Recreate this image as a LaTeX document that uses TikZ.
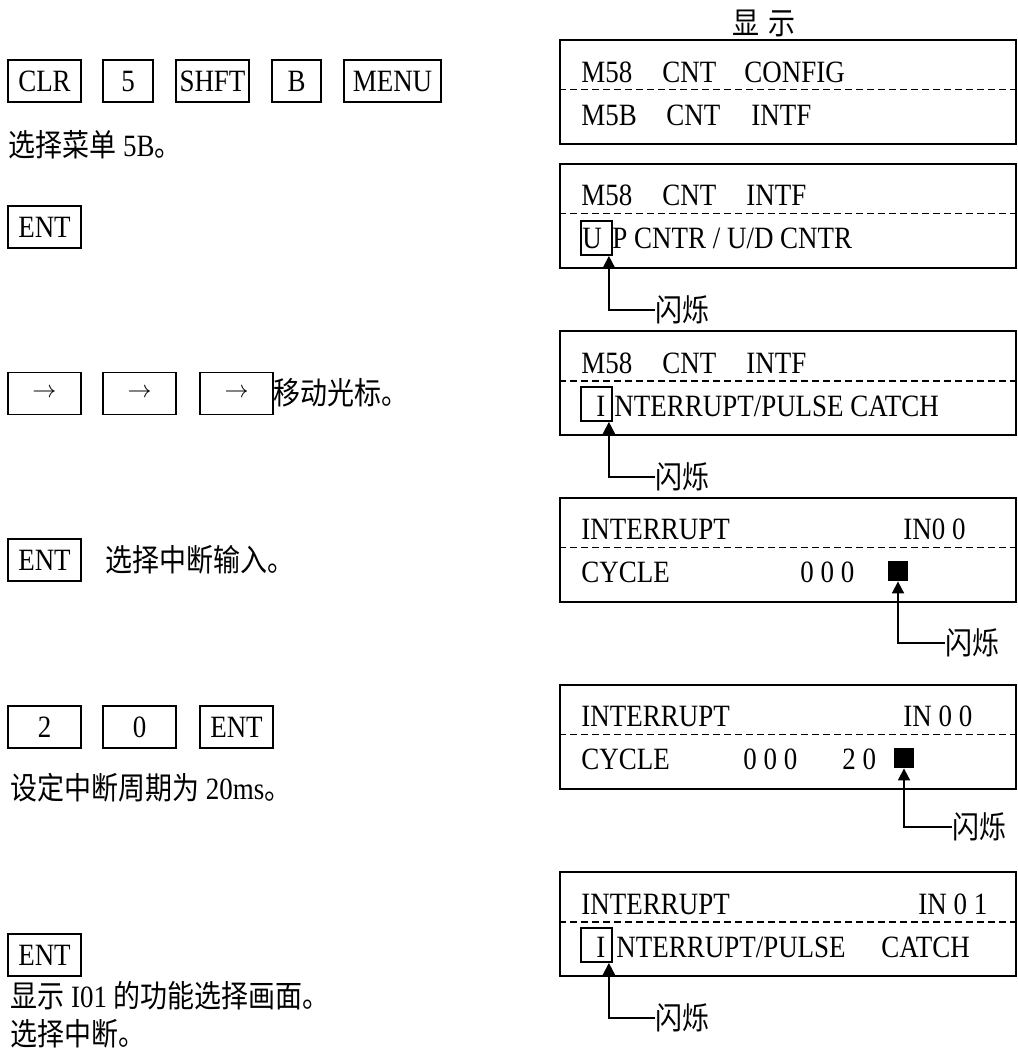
\documentclass[tikz,border=0pt]{standalone}
\usepackage{fontspec}
\setmainfont{Liberation Serif}[FakeStretch=0.87]
\newfontfamily\zh{Noto Sans CJK SC}[FakeStretch=0.87]
\usetikzlibrary{arrows.meta}
\newcommand{\txtsize}{\fontsize{15.5}{18}\selectfont}
\newcommand{\rarr}{{\fontsize{12.5}{14}\selectfont$\rightarrow$}}
\tikzset{
  key/.style={draw=black, line width=0.9pt, minimum height=21pt, inner sep=0pt,
              text depth=0pt, font=\txtsize},
  lcd/.style={draw=black, line width=1pt, minimum width=228pt, minimum height=52pt,
              inner sep=0pt},
  sep/.style={draw=black, line width=0.9pt, dash pattern=on 3.5pt off 2pt},  % row divider
  txt/.style={anchor=base west, inner sep=0pt, font=\txtsize},
  note/.style={anchor=west, inner sep=0pt, font=\txtsize},
  cur/.style={draw=black, line width=0.9pt, minimum width=15.5pt, minimum height=17pt,
              inner sep=0pt},                                           % cursor frame
  blk/.style={fill=black, minimum size=10pt, inner sep=0pt},             % block cursor
  blink/.style={draw=black, line width=0.9pt, -{Triangle[length=6pt, width=6pt]}},
}

\begin{document}
\begin{tikzpicture}[x=0.5pt, y=-0.5pt]
  \useasboundingbox (0,0) rectangle (1017,1049);
  % ---------------- keys and notes ----------------
  \node[key, minimum width=36.5pt] (k1)  at (44.5,81)  {CLR};
  \node[key, minimum width=25pt]   (k2)  at (128,81)   {5};
  \node[key, minimum width=36.5pt] (k3)  at (212.5,81) {SHFT};
  \node[key, minimum width=24.5pt] (k4)  at (296.5,81) {B};
  \node[key, minimum width=48.5pt] (k5)  at (392.5,81) {MENU};
  \node[note] (n1) at (8,145) {{\zh 选择菜单} 5B{\zh 。}};

  \node[key, minimum width=36.5pt] (k6)  at (44.5,227) {ENT};

  \node[key, minimum width=36.5pt] (k7)  at (44.5,393.5)  {\rarr};
  \node[key, minimum width=36.5pt] (k8)  at (139.5,393.5) {\rarr};
  \node[key, minimum width=36.5pt] (k9)  at (236.5,393.5) {\rarr};
  \node[note] (n2) at (273,393) {\zh 移动光标。};

  \node[key, minimum width=36.5pt] (k10) at (44.5,560) {ENT};
  \node[note] (n3) at (105,560) {\zh 选择中断输入。};

  \node[key, minimum width=36.5pt] (k11) at (44.5,727)  {2};
  \node[key, minimum width=36.5pt] (k12) at (139.5,727) {0};
  \node[key, minimum width=36.5pt] (k13) at (236.5,727) {ENT};
  \node[note] (n4) at (10,788) {{\zh 设定中断周期为} 20ms{\zh 。}};

  \node[key, minimum width=36.5pt] (k14) at (44.5,955) {ENT};
  \node[note] (n5) at (10,996)  {{\zh 显示} I01 {\zh 的功能选择画面。}};
  \node[note] (n6) at (10,1034) {\zh 选择中断。};

  % ---------------- displays ----------------
  \node[font=\txtsize\zh] (ttl) at (764,23) {显\hspace{5pt}示};

  \node[lcd] (lcd1) at (788,91.5) {};
  \draw[sep] ([yshift=1pt]lcd1.west) -- ([yshift=1pt]lcd1.east);
  \node[txt] (l1a) at (581,82)  {M58};
  \node[txt] (l1b) at (662,82)  {CNT};
  \node[txt] (l1c) at (744,82)  {CONFIG};
  \node[txt] (l1d) at (581,125) {M5B};
  \node[txt] (l1e) at (666,125) {CNT};
  \node[txt] (l1f) at (751,125) {INTF};

  \node[lcd] (lcd2) at (788,215.5) {};
  \draw[sep] ([yshift=1pt]lcd2.west) -- ([yshift=1pt]lcd2.east);
  \node[txt] (l2a) at (581,205) {M58};
  \node[txt] (l2b) at (662,205) {CNT};
  \node[txt] (l2c) at (746,205) {INTF};
  \node[cur] (c2)  at (596.5,238) {};
  \node[txt] (l2d) at (582,248) {U};
  \node[txt] (l2e) at (612,248) {P CNTR / U/D CNTR};
  \node[note] (b2) at (655,310) {\zh 闪烁};
  \draw[blink] (b2.west) -| ([xshift=-2pt]c2.south east);

  \node[lcd] (lcd3) at (788,383) {};
  \draw[sep] ([yshift=1pt]lcd3.west) -- ([yshift=1pt]lcd3.east);
  \node[txt] (l3a) at (581,373) {M58};
  \node[txt] (l3b) at (662,373) {CNT};
  \node[txt] (l3c) at (746,373) {INTF};
  \node[cur] (c3)  at (596.5,404) {};
  \node[txt] (l3d) at (596,416) {I};
  \node[txt] (l3e) at (614,416) {NTERRUPT/PULSE CATCH};
  \node[note] (b3) at (655,477) {\zh 闪烁};
  \draw[blink] (b3.west) -| ([xshift=-2pt]c3.south east);

  \node[lcd] (lcd4) at (788,549.5) {};
  \draw[sep] ([yshift=1pt]lcd4.west) -- ([yshift=1pt]lcd4.east);
  \node[txt] (l4a) at (581,539) {INTERRUPT};
  \node[txt] (l4b) at (903,539) {IN0 0};
  \node[txt] (l4c) at (581,582) {CYCLE};
  \node[txt] (l4d) at (800,582) {0 0 0};
  \node[blk] (sq4) at (898,571) {};
  \node[note] (b4) at (945,643) {\zh 闪烁};
  \draw[blink] (b4.west) -| (sq4.south);

  \node[lcd] (lcd5) at (788,736.5) {};
  \draw[sep] ([yshift=1pt]lcd5.west) -- ([yshift=1pt]lcd5.east);
  \node[txt] (l5a) at (581,726) {INTERRUPT};
  \node[txt] (l5b) at (903,726) {IN 0 0};
  \node[txt] (l5c) at (581,769) {CYCLE};
  \node[txt] (l5d) at (743,769) {0 0 0};
  \node[txt] (l5e) at (842,769) {2 0};
  \node[blk] (sq5) at (904,758) {};
  \node[note] (b5) at (952,827) {\zh 闪烁};
  \draw[blink] (b5.west) -| (sq5.south);

  \node[lcd] (lcd6) at (788,924) {};
  \draw[sep] ([yshift=1pt]lcd6.west) -- ([yshift=1pt]lcd6.east);
  \node[txt] (l6a) at (581,914) {INTERRUPT};
  \node[txt] (l6b) at (918,914) {IN 0 1};
  \node[cur] (c6)  at (596.5,945) {};
  \node[txt] (l6c) at (596,957) {I};
  \node[txt] (l6d) at (616,957) {NTERRUPT/PULSE};
  \node[txt] (l6e) at (881,957) {CATCH};
  \node[note] (b6) at (655,1018) {\zh 闪烁};
  \draw[blink] (b6.west) -| ([xshift=-2pt]c6.south east);
\end{tikzpicture}
\end{document}
